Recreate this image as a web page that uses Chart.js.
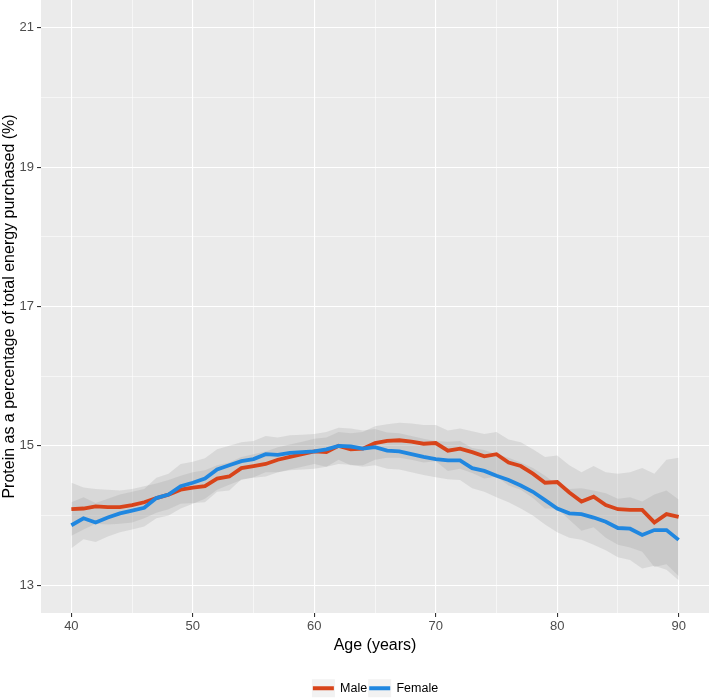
<!DOCTYPE html>
<html>
<head>
<meta charset="utf-8">
<script src="https://cdn.jsdelivr.net/npm/chart.js@4.4.1/dist/chart.umd.min.js"></script>
<style>
html,body{margin:0;padding:0;background:#fff;}
#wrap{width:709px;height:700px;position:relative;}
</style>
</head>
<body>
<div id="wrap"><canvas id="c" width="709" height="700"></canvas></div>
<script>
const ages = [40,41,42,43,44,45,46,47,48,49,50,51,52,53,54,55,56,57,58,59,60,61,62,63,64,65,66,67,68,69,70,71,72,73,74,75,76,77,78,79,80,81,82,83,84,85,86,87,88,89,90];
const male = [14.09,14.10,14.13,14.12,14.12,14.15,14.19,14.25,14.30,14.37,14.40,14.42,14.53,14.56,14.68,14.71,14.74,14.80,14.84,14.88,14.92,14.91,15.00,14.95,14.96,15.04,15.07,15.08,15.06,15.03,15.04,14.93,14.96,14.91,14.85,14.88,14.76,14.71,14.60,14.47,14.48,14.33,14.20,14.27,14.15,14.09,14.08,14.08,13.90,14.02,13.98];
const female = [13.86,13.96,13.90,13.97,14.03,14.07,14.11,14.25,14.30,14.42,14.47,14.53,14.66,14.72,14.78,14.81,14.88,14.87,14.90,14.91,14.92,14.95,15.00,14.99,14.96,14.98,14.93,14.92,14.88,14.84,14.81,14.79,14.79,14.68,14.64,14.57,14.51,14.43,14.34,14.22,14.10,14.03,14.02,13.97,13.91,13.82,13.81,13.72,13.79,13.79,13.65];
const maleUpper = [14.47,14.40,14.38,14.37,14.36,14.38,14.42,14.46,14.51,14.57,14.62,14.65,14.72,14.76,14.84,14.88,14.92,14.98,15.02,15.06,15.10,15.12,15.20,15.18,15.20,15.28,15.31,15.33,15.32,15.30,15.30,15.22,15.25,15.21,15.17,15.20,15.09,15.05,14.95,14.84,14.86,14.72,14.62,14.71,14.62,14.60,14.62,14.68,14.60,14.80,14.83];
const maleLower = [13.71,13.80,13.88,13.87,13.88,13.90,13.96,14.04,14.09,14.17,14.18,14.19,14.34,14.36,14.52,14.54,14.56,14.62,14.66,14.70,14.74,14.70,14.80,14.72,14.72,14.80,14.83,14.83,14.80,14.76,14.78,14.64,14.67,14.61,14.53,14.56,14.43,14.37,14.25,14.10,14.10,13.94,13.78,13.83,13.68,13.58,13.54,13.48,13.26,13.30,13.13];
const femaleUpper = [14.19,14.26,14.18,14.24,14.30,14.34,14.38,14.54,14.60,14.74,14.77,14.82,14.95,15.00,15.05,15.07,15.14,15.12,15.15,15.16,15.17,15.20,15.26,15.25,15.22,15.24,15.19,15.18,15.14,15.10,15.07,15.06,15.07,14.97,14.94,14.88,14.83,14.76,14.68,14.57,14.44,14.38,14.39,14.36,14.32,14.24,14.26,14.20,14.30,14.36,14.23];
const femaleLower = [13.53,13.66,13.62,13.70,13.76,13.80,13.84,13.96,14.00,14.10,14.17,14.24,14.37,14.44,14.51,14.55,14.62,14.62,14.65,14.66,14.67,14.70,14.74,14.73,14.70,14.72,14.67,14.66,14.62,14.58,14.55,14.52,14.51,14.39,14.34,14.26,14.19,14.10,14.00,13.87,13.76,13.68,13.65,13.58,13.50,13.40,13.36,13.24,13.28,13.22,13.07];
const xMajor = [40,50,60,70,80,90];
const xMinor = [45,55,65,75,85];
const yMajor = [13,15,17,19,21];
const yMinor = [14,16,18,20];
const seriesNames = ['Male','Female'];
const xTitle = 'Age (years)';
const yTitle = 'Protein as a percentage of total energy purchased (%)';

const pts = arr => ages.map((a,i)=>({x:a,y:arr[i]}));
const ribbon = 'rgba(150,150,150,0.22)';
const FONT = '"Liberation Sans", Arial, sans-serif';
const LEG_SHIFT_Y = 4.5;
const LEG_SHIFT_X = 21;

const panelBg = {
  id:'panelBg',
  beforeDraw(chart){
    const {ctx, chartArea:a} = chart;
    ctx.save();
    ctx.fillStyle = '#EBEBEB';
    ctx.fillRect(a.left, a.top, a.right-a.left, a.bottom-a.top);
    const lg = chart.legend;
    if (lg && lg.legendHitBoxes) {
      ctx.fillStyle = '#F2F2F2';
      lg.legendHitBoxes.forEach(h=>{
        ctx.fillRect(h.left - 1, lg.top + lg.options.labels.padding + 6.25 - 9, 23, 18);
      });
    }
    ctx.restore();
  },
  afterLayout(chart){
    const lg = chart.legend;
    if (lg) {
      lg.top += LEG_SHIFT_Y; lg.bottom += LEG_SHIFT_Y;
      lg.left += LEG_SHIFT_X; lg.right += LEG_SHIFT_X;
    }
  }
};

const sortVals = (scale, major, minor) => {
  scale.ticks = major.concat(minor).sort((a,b)=>a-b).map(v=>({value:v}));
};

new Chart(document.getElementById('c'), {
  type:'line',
  data:{
    datasets:[
      {label:'mu', data:pts(maleUpper), borderWidth:0, pointRadius:0, fill:false, order:2, backgroundColor:ribbon, borderColor:'rgba(0,0,0,0)'},
      {label:'ml', data:pts(maleLower), borderWidth:0, pointRadius:0, fill:'-1', order:2, backgroundColor:ribbon, borderColor:'rgba(0,0,0,0)'},
      {label:'fu', data:pts(femaleUpper), borderWidth:0, pointRadius:0, fill:false, order:2, backgroundColor:ribbon, borderColor:'rgba(0,0,0,0)'},
      {label:'fl', data:pts(femaleLower), borderWidth:0, pointRadius:0, fill:'-1', order:2, backgroundColor:ribbon, borderColor:'rgba(0,0,0,0)'},
      {label:seriesNames[0], data:pts(male), borderColor:'#D8441A', backgroundColor:'#D8441A', borderWidth:3.8, pointRadius:0, fill:false, order:1, tension:0},
      {label:seriesNames[1], data:pts(female), borderColor:'#2087E0', backgroundColor:'#2087E0', borderWidth:3.8, pointRadius:0, fill:false, order:0, tension:0}
    ]
  },
  options:{
    responsive:false,
    animation:false,
    events:[],
    layout:{padding:{left:0,right:0,top:0,bottom:0}},
    plugins:{
      tooltip:{enabled:false},
      legend:{
        position:'bottom',
        align:'center',
        labels:{
          filter:(item)=>item.datasetIndex>=4,
          sort:(a,b)=>a.datasetIndex-b.datasetIndex,
          usePointStyle:true,
          pointStyle:'line',
          pointStyleWidth:21,
          boxWidth:21,
          padding:2,
          color:'#000',
          font:{family:FONT, size:12.5}
        }
      }
    },
    scales:{
      x:{
        type:'linear',
        min:37.5, max:92.5,
        afterBuildTicks:s=>sortVals(s,xMajor,xMinor),
        afterFit:s=>{s.height=62.5; s.paddingLeft=0; s.paddingRight=0;},
        border:{display:false},
        grid:{
          color:'#FFFFFF',
          lineWidth:c=>xMajor.includes(c.tick.value)?1.1:0.55,
          drawTicks:true,
          tickLength:4,
          tickColor:c=>xMajor.includes(c.tick.value)?'#333333':'rgba(0,0,0,0)',
          tickWidth:1.1
        },
        ticks:{
          autoSkip:false, maxRotation:0, padding:2,
          color:'#4D4D4D',
          font:{family:FONT, size:13},
          callback:v=>xMajor.includes(v)?String(v):''
        },
        title:{display:true, text:xTitle, color:'#000', font:{family:FONT, size:16}, padding:{top:0,bottom:20.5}}
      },
      y:{
        type:'linear',
        min:12.6, max:21.4,
        afterBuildTicks:s=>sortVals(s,yMajor,yMinor),
        afterFit:s=>{s.width=41; s.paddingTop=0; s.paddingBottom=0;},
        border:{display:false},
        grid:{
          color:'#FFFFFF',
          lineWidth:c=>yMajor.includes(c.tick.value)?1.1:0.55,
          drawTicks:true,
          tickLength:4,
          tickColor:c=>yMajor.includes(c.tick.value)?'#333333':'rgba(0,0,0,0)',
          tickWidth:1.1
        },
        ticks:{
          autoSkip:false, padding:3,
          color:'#4D4D4D',
          font:{family:FONT, size:13},
          callback:v=>yMajor.includes(v)?String(v):''
        },
        title:{display:true, text:yTitle, color:'#000', font:{family:FONT, size:16}, padding:{top:0,bottom:0}}
      }
    }
  },
  plugins:[panelBg]
});
</script>
</body>
</html>
